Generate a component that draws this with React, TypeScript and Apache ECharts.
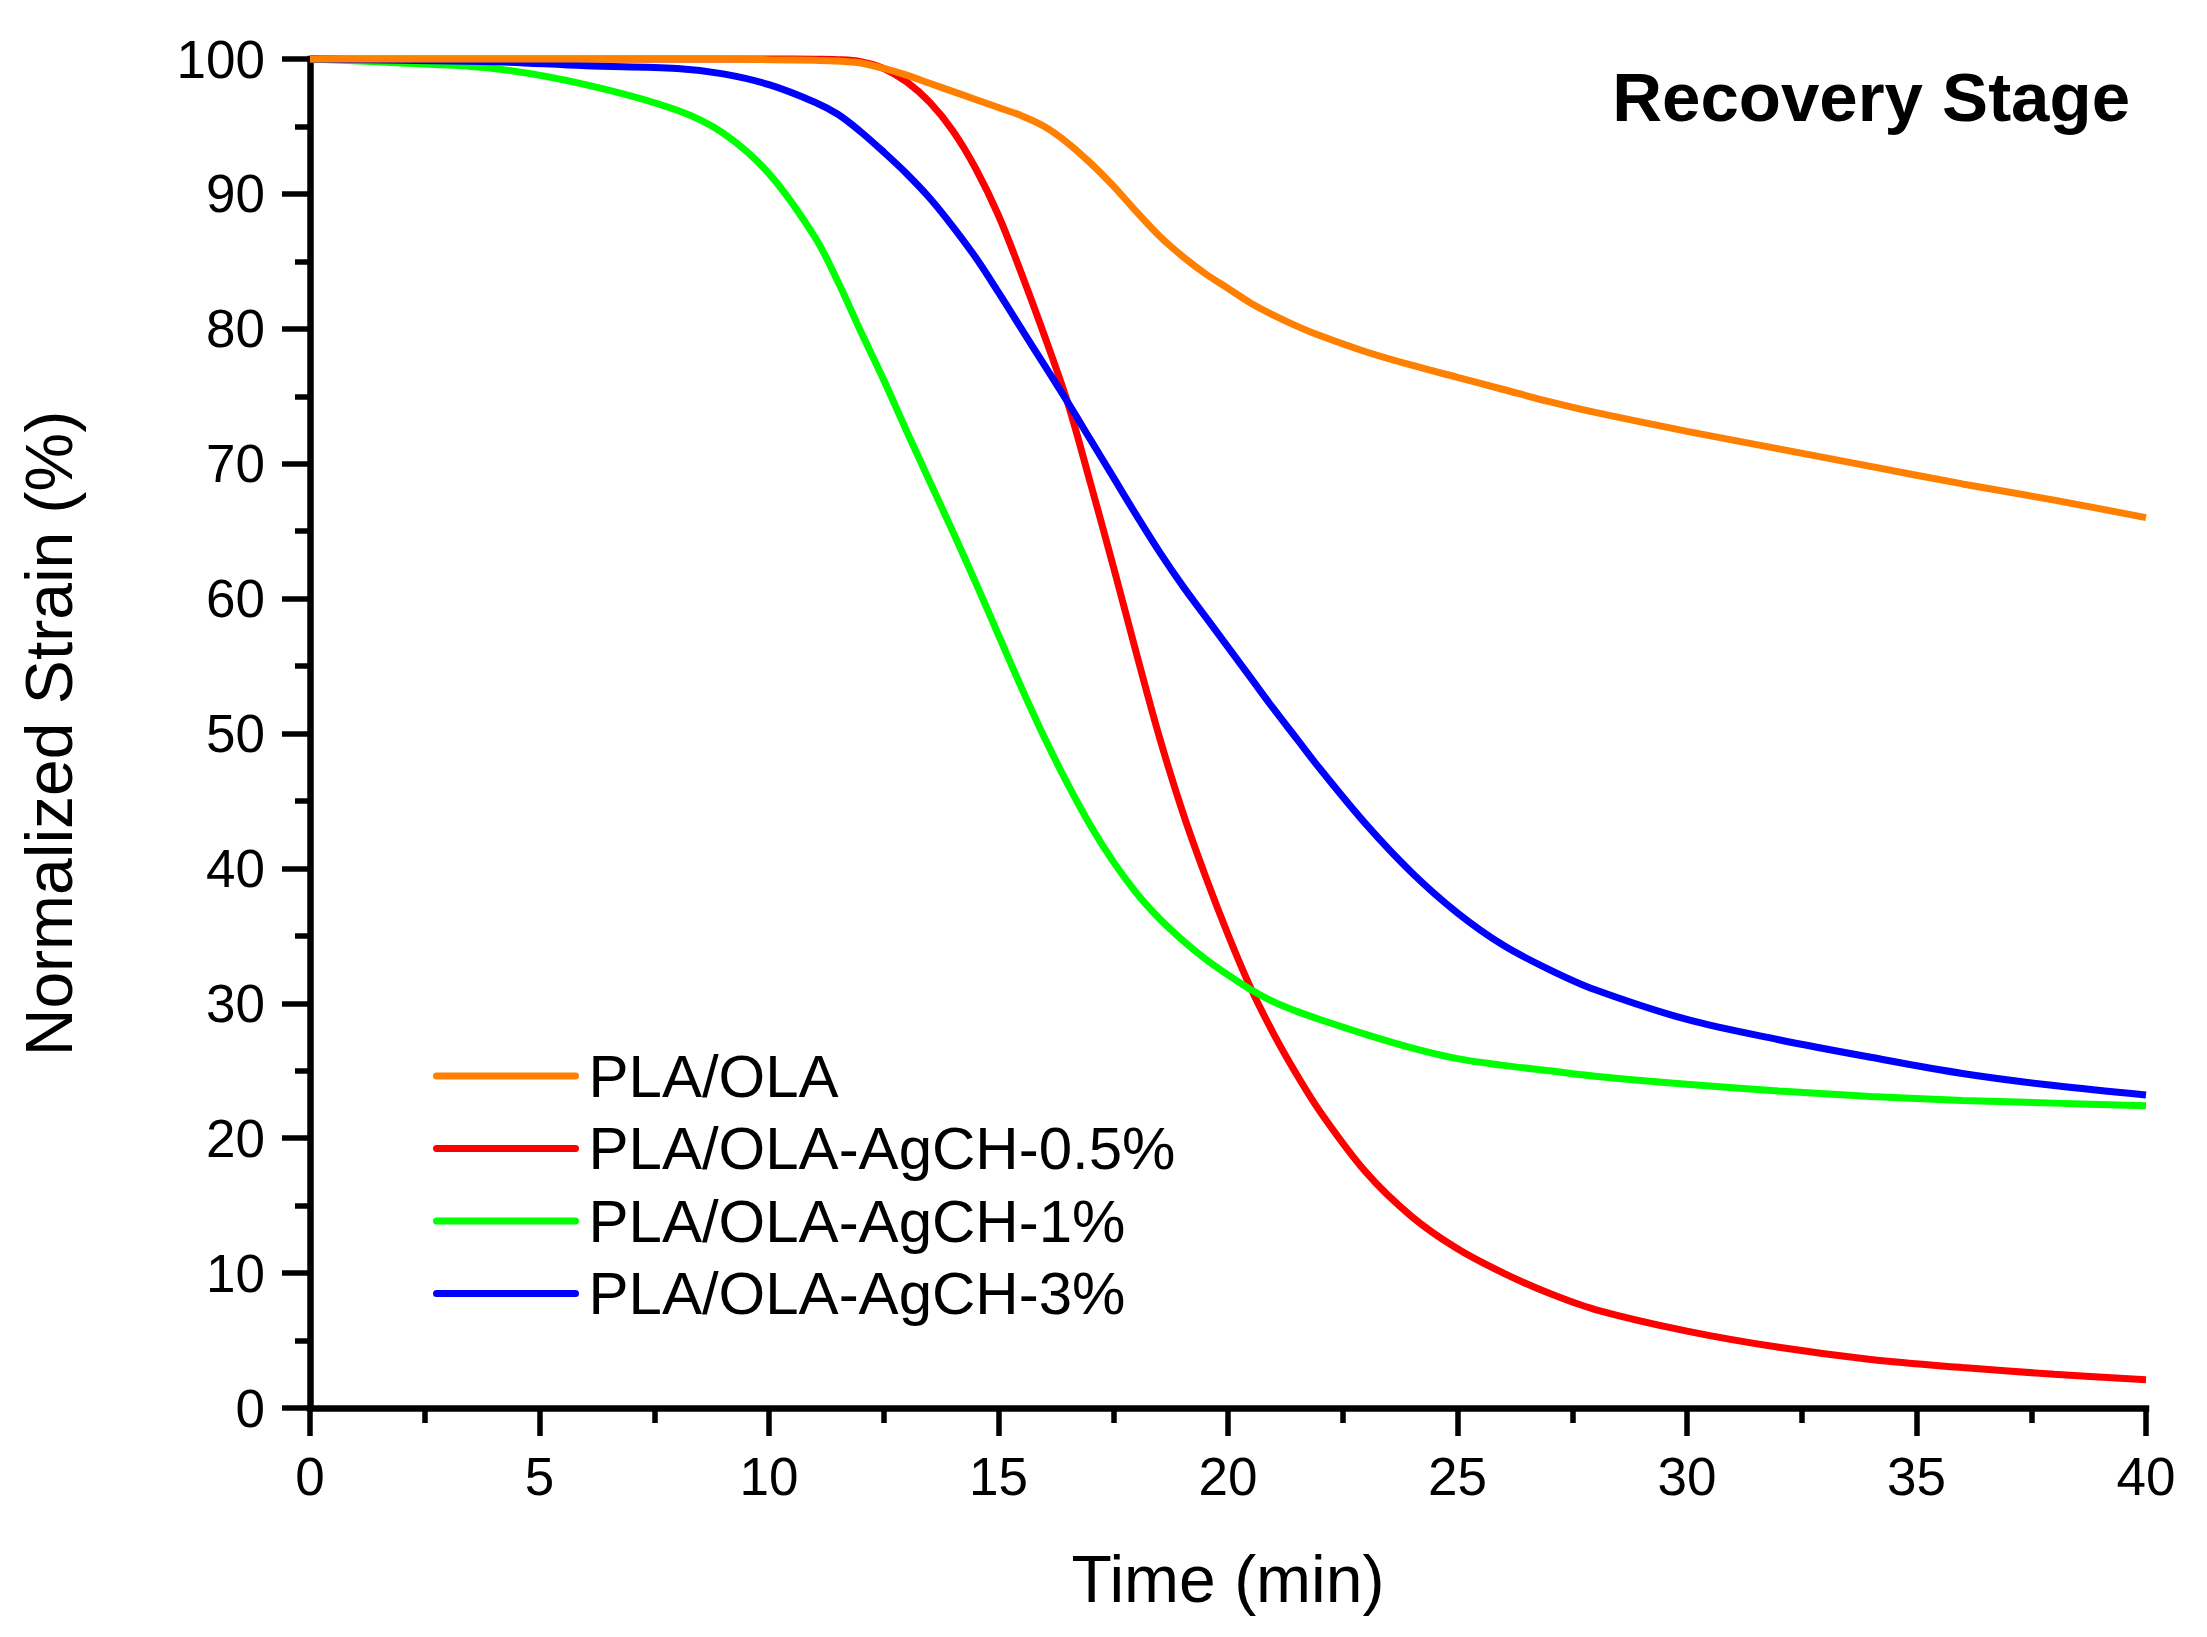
import React, { useEffect, useRef } from "react";
import * as echarts from "echarts";

const FONT = '"Liberation Sans", Arial, Helvetica, sans-serif';

const timeMin = [0, 2, 4, 6, 8, 9, 10, 11, 11.5, 12, 12.5, 13, 13.5, 14, 14.5, 15, 15.5, 16, 16.5, 17, 17.5, 18, 18.5, 19, 19.5, 20, 20.5, 21, 21.5, 22, 23, 24, 25, 26, 27, 28, 30, 32, 34, 36, 38, 40];

const plaOla = [100, 100, 100, 100, 100, 100, 99.95, 99.9, 99.85, 99.7, 99.3, 98.8, 98.2, 97.6, 97.0, 96.4, 95.8, 95.0, 93.8, 92.3, 90.6, 88.7, 86.9, 85.4, 84.1, 83.0, 81.9, 81.0, 80.2, 79.5, 78.3, 77.3, 76.4, 75.5, 74.6, 73.8, 72.4, 71.1, 69.8, 68.5, 67.3, 66.0];

const agch05 = [100, 100, 100, 100, 100, 100, 100, 99.98, 99.95, 99.8, 99.3, 98.3, 96.8, 94.7, 91.9, 88.4, 84.1, 79.5, 74.6, 68.6, 62.4, 56.0, 49.8, 44.3, 39.5, 35.1, 31.1, 27.7, 24.7, 22.0, 17.5, 14.2, 11.8, 10.0, 8.5, 7.3, 5.7, 4.5, 3.6, 3.0, 2.5, 2.1];

const agch1 = [100, 99.7, 99.3, 98.1, 96.2, 94.5, 91.5, 86.8, 83.5, 79.8, 76.2, 72.4, 68.7, 65.0, 61.2, 57.3, 53.4, 49.7, 46.3, 43.2, 40.5, 38.2, 36.3, 34.7, 33.3, 32.1, 31.0, 30.1, 29.4, 28.8, 27.7, 26.7, 25.9, 25.4, 25.0, 24.6, 24.0, 23.5, 23.1, 22.8, 22.6, 22.4];

const agch3 = [100, 99.9, 99.8, 99.5, 99.3, 98.9, 98.1, 96.8, 95.9, 94.6, 93.1, 91.5, 89.7, 87.6, 85.3, 82.7, 80.0, 77.3, 74.6, 71.8, 69.0, 66.2, 63.5, 61.0, 58.7, 56.4, 54.1, 51.8, 49.6, 47.4, 43.3, 39.7, 36.7, 34.3, 32.5, 31.0, 28.8, 27.3, 26.0, 24.8, 23.9, 23.2];

const seriesNames = ["PLA/OLA", "PLA/OLA-AgCH-0.5%", "PLA/OLA-AgCH-1%", "PLA/OLA-AgCH-3%"];
const seriesColors = ["#FF8000", "#FF0000", "#00FF00", "#0000FF"];
const seriesValues = [plaOla, agch05, agch1, agch3];
// drawing order: red, green, blue, orange (orange on top)
const drawOrder = [1, 2, 3, 0];

function App() {
  const ref = useRef<HTMLDivElement>(null);
  useEffect(() => {
    if (!ref.current) return;
    const chart = echarts.init(ref.current, undefined, { renderer: "svg" });
    const axisCommon = {
      type: "value" as const,
      axisLine: { show: true, onZero: false, lineStyle: { color: "#000", width: 6.5, cap: "square" } },
      axisTick: { show: true, inside: false, length: 28, lineStyle: { color: "#000", width: 5.5 } },
      minorTick: { show: true, splitNumber: 2, length: 15, lineStyle: { color: "#000", width: 5.5 } },
      splitLine: { show: false },
      minorSplitLine: { show: false },
      nameLocation: "middle" as const,
      nameTextStyle: { fontSize: 66, color: "#000", fontFamily: FONT },
    };
    chart.setOption({
      animation: false,
      backgroundColor: "#fff",
      title: {
        text: "Recovery Stage",
        right: 77,
        top: 63,
        padding: 0,
        textStyle: { fontSize: 69, fontWeight: "bold", color: "#000", fontFamily: FONT },
      },
      legend: {
        data: seriesNames,
        orient: "vertical",
        left: 433,
        top: 1046,
        padding: 0,
        itemWidth: 139,
        itemHeight: 20,
        itemGap: 12.5,
        textStyle: { fontSize: 60, color: "#000", fontFamily: FONT, lineHeight: 60, padding: [0, 0, 0, 8] },
        itemStyle: { color: "rgba(0,0,0,0)", borderWidth: 0, opacity: 0 },
        lineStyle: { width: 7, cap: "round" },
      },
      grid: { left: 310, top: 59, width: 1836, height: 1349, containLabel: false },
      xAxis: {
        ...axisCommon,
        min: 0,
        max: 40,
        interval: 5,
        name: "Time (min)",
        nameGap: 138,
        axisLabel: { fontSize: 53, color: "#000", fontFamily: FONT, margin: 42 },
      },
      yAxis: {
        ...axisCommon,
        min: 0,
        max: 100,
        interval: 10,
        name: "Normalized Strain (%)",
        nameGap: 228,
        nameRotate: 90,
        axisLabel: { fontSize: 53, color: "#000", fontFamily: FONT, margin: 45 },
      },
      series: drawOrder.map((i) => ({
        name: seriesNames[i],
        type: "line",
        data: timeMin.map((t, k) => [t, seriesValues[i][k]]),
        smooth: 0.35,
        symbol: "none",
        clip: false,
        color: seriesColors[i],
        lineStyle: { color: seriesColors[i], width: 7 },
      })),
    });
    return () => chart.dispose();
  }, []);
  return (
    <div
      ref={ref}
      style={{ position: "absolute", left: 0, top: 0, width: 2207, height: 1637, background: "#fff" }}
    />
  );
}

export default App;
